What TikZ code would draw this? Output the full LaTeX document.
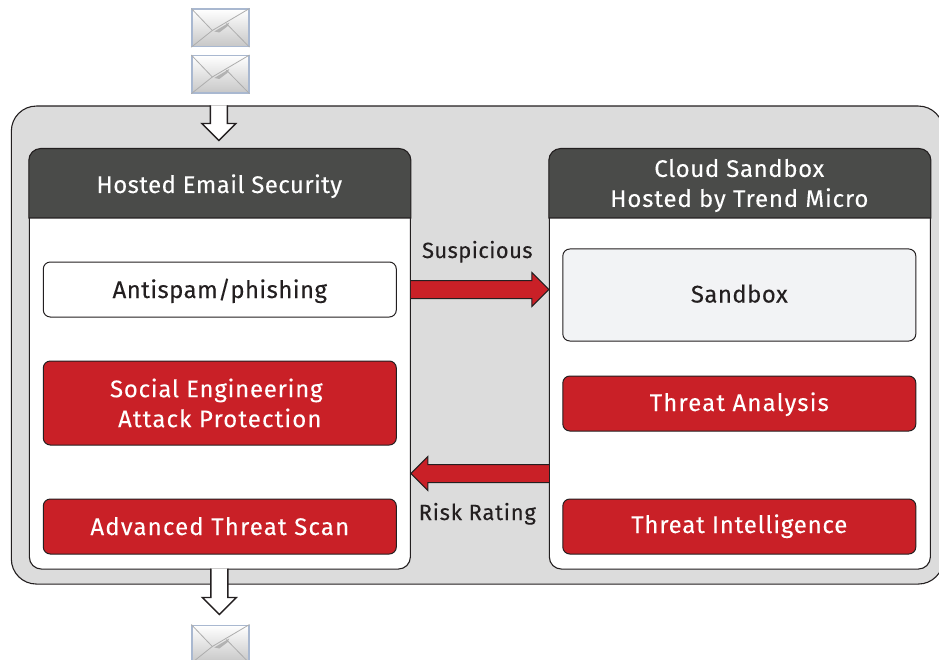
\documentclass[tikz,border=0pt]{standalone}
\usepackage{fontspec}
\setmainfont[LetterSpace=1.8,FakeBold=0.15]{Fira Sans}
\usetikzlibrary{calc,fadings,shadings}
\definecolor{hdr}{HTML}{4A4B49}
\definecolor{tmred}{HTML}{C92027}
\definecolor{band}{HTML}{DCDCDC}
\definecolor{sbx}{HTML}{F2F3F5}
\definecolor{ink}{HTML}{231F20}
\definecolor{envb}{HTML}{A9B8D0}
\newcommand{\lsp}[2]{{\addfontfeatures{LetterSpace=#1}#2}}
\tikzset{
  outerbox/.style={draw=ink,fill=band,line width=1.1pt,rounded corners=25pt},
  panel/.style={draw=ink,fill=white,line width=1.1pt,rounded corners=12pt,anchor=north west,inner sep=0pt},
  headfill/.style={fill=hdr,draw=ink,line width=1.1pt},
  txt/.style={font=\fontsize{24}{30}\selectfont,align=center,inner sep=0pt},
  oneline/.style={text height=20pt,text depth=5pt},
  headtext/.style={txt,text=white},
  whitebox/.style={draw=ink,fill=white,line width=1pt,rounded corners=7pt,anchor=north west,inner sep=0pt,txt,text=ink},
  graybox/.style={whitebox,fill=sbx},
  redbox/.style={whitebox,fill=tmred,text=white},
  redarrow/.style={draw=ink,line width=1pt,line join=miter},
  whitearrow/.style={draw=ink,line width=1.4pt,line join=miter},
  envelope/.style={anchor=north west,inner sep=0pt,minimum width=57pt,minimum height=37.5pt,draw=envb,line width=1.2pt,
    left color=white,right color=black!22,shading angle=0},
  envline/.style={draw=black!32,line width=.8pt},
  envshade/.style={fill=black!30},
  sidetext/.style={txt,oneline,text=ink,font=\fontsize{22}{26}\selectfont},
}
\newcommand{\envdetail}[1]{
  \fill[envshade] ($(#1.north west)+(23,23)$) -- ($(#1.north west)+(38,14)$) -- ($(#1.north west)+(36,18)$) -- ($(#1.north west)+(28,24)$) -- cycle;
  \draw[envline] (#1.north west) -- ($(#1.north west)+(21,22)$) -- (#1.north east);
  \draw[envline] (#1.south west) -- ($(#1.north west)+(21,22)$);
  \draw[envline] (#1.south east) -- ($(#1.north west)+(35,15)$);
}
\begin{document}
\begin{tikzpicture}[x=1pt,y=-1pt]
\useasboundingbox (0.7,0.5) rectangle (939.7,660.5);
\clip (0.7,0.5) rectangle (939.7,660.5);
% outer band
\node[outerbox,anchor=north west,minimum width=932pt,minimum height=478pt,inner sep=0pt] (outer) at (11.5,106) {};
% envelopes
\node[envelope] (env1) at (192,9) {};
\envdetail{env1}
\node[envelope] (env2) at (192,55.5) {};
\envdetail{env2}
\node[envelope] (env3) at (192,625) {};
\envdetail{env3}
% panels
\node[panel,minimum width=381pt,minimum height=420pt] (lp) at (29.5,149) {};
\node[panel,minimum width=381pt,minimum height=420pt] (rp) at (549.5,149) {};
\draw[headfill] (lp.west |- 0,218.5) [rounded corners=12pt] -- (lp.north west) -- (lp.north east) [sharp corners] -- (lp.east |- 0,218.5) -- cycle;
\draw[headfill] (rp.west |- 0,218.5) [rounded corners=12pt] -- (rp.north west) -- (rp.north east) [sharp corners] -- (rp.east |- 0,218.5) -- cycle;
\node[headtext,oneline,text height=23pt] (lh) at (220,184.5) {Hosted Email Security};
\node[headtext] (rh) at (740,186) {\lsp{2.6}{Cloud Sandbox}\\\lsp{3.6}{Hosted by Trend Micro}};
% inner boxes
\node[whitebox,oneline,text height=22pt,minimum width=353pt,minimum height=55pt] (anti) at (43.5,262) {Antispam/phishing};
\node[redbox,minimum width=353pt,minimum height=84pt] (social) at (43.5,361) {\lsp{3.2}{Social Engineering}\hspace*{7pt}\\\lsp{4.7}{Attack Protection}};
\node[redbox,oneline,text height=22pt,minimum width=353pt,minimum height=55pt] (ats) at (43.5,499) {\lsp{4.9}{Advanced Threat Scan}};
\node[graybox,oneline,minimum width=353pt,minimum height=92pt] (sand) at (563,249) {Sandbox};
\node[redbox,oneline,minimum width=353pt,minimum height=55pt] (ta) at (563,376) {\lsp{4.8}{Threat Analysis}};
\node[redbox,oneline,text height=18pt,minimum width=353pt,minimum height=55pt] (ti) at (563,499) {\lsp{3.3}{Threat Intelligence}};
% red arrows
\coordinate (sa) at (lp.east |- anti.east);
\coordinate (ea) at (rp.west |- anti.east);
\fill[tmred] ($(sa)+(0,-9)$) -- ($(ea)+(-17,-9)$) -- ($(ea)+(-17,-17)$) -- (ea) -- ($(ea)+(-17,17)$) -- ($(ea)+(-17,9)$) -- ($(sa)+(0,9)$) -- cycle;
\draw[redarrow] ($(sa)+(0,-9)$) -- ($(ea)+(-17,-9)$) -- ($(ea)+(-17,-17)$) -- (ea) -- ($(ea)+(-17,17)$) -- ($(ea)+(-17,9)$) -- ($(sa)+(0,9)$);
\coordinate (sb) at (rp.west |- 0,474);
\coordinate (eb) at (lp.east |- 0,474);
\fill[tmred] ($(sb)+(0,-9)$) -- ($(eb)+(17,-9)$) -- ($(eb)+(17,-17)$) -- (eb) -- ($(eb)+(17,17)$) -- ($(eb)+(17,9)$) -- ($(sb)+(0,9)$) -- cycle;
\draw[redarrow] ($(sb)+(0,-9)$) -- ($(eb)+(17,-9)$) -- ($(eb)+(17,-17)$) -- (eb) -- ($(eb)+(17,17)$) -- ($(eb)+(17,9)$) -- ($(sb)+(0,9)$);
\node[sidetext] (susp) at (478,251) {Suspicious};
\node[sidetext] (risk) at (478,513) {\lsp{3.4}{Risk Rating}};
% white arrows
\coordinate (ts) at (219.5,106);
\coordinate (te) at (219.5,141);
\fill[white] ($(ts)+(-8.5,0)$) -- ($(te)+(-8.5,-17)$) -- ($(te)+(-17,-17)$) -- (te) -- ($(te)+(17,-17)$) -- ($(te)+(8.5,-17)$) -- ($(ts)+(8.5,0)$) -- cycle;
\draw[whitearrow] ($(ts)+(-8.5,0)$) -- ($(te)+(-8.5,-17)$) -- ($(te)+(-17,-17)$) -- (te) -- ($(te)+(17,-17)$) -- ($(te)+(8.5,-17)$) -- ($(ts)+(8.5,0)$);
\coordinate (bs) at (220,569);
\coordinate (be) at (220,615);
\fill[white] ($(bs)+(-8.5,0)$) -- ($(be)+(-8.5,-17)$) -- ($(be)+(-17,-17)$) -- (be) -- ($(be)+(17,-17)$) -- ($(be)+(8.5,-17)$) -- ($(bs)+(8.5,0)$) -- cycle;
\draw[whitearrow] ($(bs)+(-8.5,0)$) -- ($(be)+(-8.5,-17)$) -- ($(be)+(-17,-17)$) -- (be) -- ($(be)+(17,-17)$) -- ($(be)+(8.5,-17)$) -- ($(bs)+(8.5,0)$);
\end{tikzpicture}
\end{document}
